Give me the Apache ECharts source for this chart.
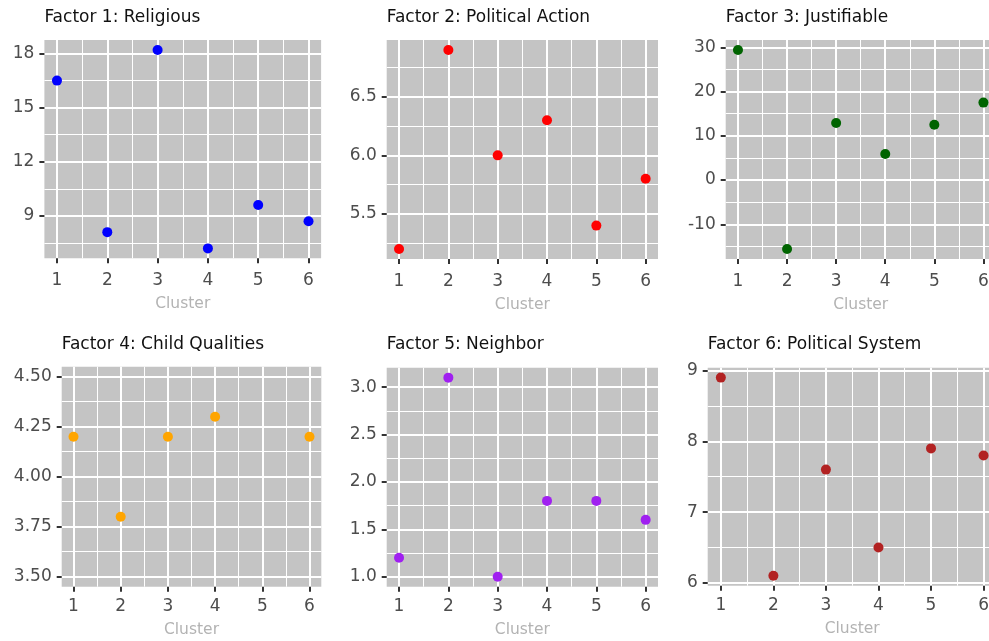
<!DOCTYPE html>
<html>
<head>
<meta charset="utf-8">
<script src="https://cdn.jsdelivr.net/npm/echarts@6/dist/echarts.min.js"></script>
<style>
html,body{margin:0;padding:0;background:#fff;}
#chart{width:989px;height:641px;}
</style>
</head>
<body>
<div id="chart"></div>
<script>
// ---- data ----
const clusters = [1, 2, 3, 4, 5, 6];
const titles = [
  'Factor 1: Religious',
  'Factor 2: Political Action',
  'Factor 3: Justifiable',
  'Factor 4: Child Qualities',
  'Factor 5: Neighbor',
  'Factor 6: Political System'
];
const religious = [16.5, 8.1, 18.2, 7.2, 9.6, 8.7];
const politicalAction = [5.2, 6.9, 6.0, 6.3, 5.4, 5.8];
const justifiable = [29.4, -15.6, 12.9, 5.9, 12.5, 17.5];
const childQualities = [4.2, 3.8, 4.2, 4.3, null, 4.2];
const neighbor = [1.2, 3.1, 1.0, 1.8, 1.8, 1.6];
const politicalSystem = [8.9, 6.1, 7.6, 6.5, 7.9, 7.8];

const xTicks = [1, 2, 3, 4, 5, 6];
const xMinorTicks = [1.5, 2.5, 3.5, 4.5, 5.5];

const yTicks1 = [9, 12, 15, 18];
const yMinor1 = [7.5, 10.5, 13.5, 16.5];
const yTicks2 = [5.5, 6.0, 6.5];
const yMinor2 = [5.25, 5.75, 6.25, 6.75];
const yTicks3 = [-10, 0, 10, 20, 30];
const yMinor3 = [-15, -5, 5, 15, 25];
const yTicks4 = [3.5, 3.75, 4.0, 4.25, 4.5];
const yMinor4 = [3.625, 3.875, 4.125, 4.375];
const yLimits4 = [3.5, 4.5];
const yTicks5 = [1.0, 1.5, 2.0, 2.5, 3.0];
const yMinor5 = [1.25, 1.75, 2.25, 2.75];
const yTicks6 = [6, 7, 8, 9];
const yMinor6 = [6.5, 7.5, 8.5];

// ---- panel setup ----
const FONT = 'DejaVu Sans';
const panels = [
  {vals: religious, yt: yTicks1, ym: yMinor1, dec: 0, color: '#0000ff', lim: null,
   box: {left: 44.4, top: 40, width: 276.7, height: 218.3}},
  {vals: politicalAction, yt: yTicks2, ym: yMinor2, dec: 1, color: '#ff0000', lim: null,
   box: {left: 386.7, top: 40, width: 271.3, height: 219}},
  {vals: justifiable, yt: yTicks3, ym: yMinor3, dec: 0, color: '#006400', lim: null,
   box: {left: 725.7, top: 40, width: 270, height: 219}},
  {vals: childQualities, yt: yTicks4, ym: yMinor4, dec: 2, color: '#ffa500', lim: yLimits4,
   box: {left: 61.7, top: 366.7, width: 259.6, height: 220}},
  {vals: neighbor, yt: yTicks5, ym: yMinor5, dec: 1, color: '#a020f0', lim: null,
   box: {left: 386.7, top: 367.7, width: 271.3, height: 219}},
  {vals: politicalSystem, yt: yTicks6, ym: yMinor6, dec: 0, color: '#b22222', lim: null,
   box: {left: 707.7, top: 367.7, width: 289, height: 218}}
];

const grid = [], xAxis = [], yAxis = [], series = [], title = [];

panels.forEach((p, i) => {
  grid.push(Object.assign({show: true, backgroundColor: '#c4c4c4', borderWidth: 0,
    containLabel: false, outerBoundsMode: 'none'}, p.box));
  const topRow = i < 3;
  title.push({
    text: titles[i], left: p.box.left, top: topRow ? 9 : 336, padding: 0,
    textStyle: {fontFamily: FONT, fontSize: 17, fontWeight: 'normal', color: '#111111'}
  });

  const vals = p.vals.filter(v => v !== null);
  const lo = p.lim ? p.lim[0] : Math.min(...vals);
  const hi = p.lim ? p.lim[1] : Math.max(...vals);
  const pad = (hi - lo) * 0.05;
  const ymin = lo - pad, ymax = hi + pad;

  const xi = xAxis.length, yi = yAxis.length;
  // major x
  xAxis.push({
    type: 'value', gridIndex: i, min: 0.75, max: 6.25, position: 'bottom',
    axisLine: {show: false, onZero: false},
    axisTick: {show: true, length: 5, customValues: xTicks, lineStyle: {color: '#333', width: 2}},
    axisLabel: {show: true, customValues: xTicks, margin: topRow ? 14 : 11,
      fontFamily: FONT, fontSize: 17, color: '#4d4d4d'},
    splitLine: {show: true, lineStyle: {color: '#ffffff', width: 2}},
    name: 'Cluster', nameLocation: 'middle', nameGap: topRow ? 38 : 35,
    nameTextStyle: {fontFamily: FONT, fontSize: 15.5, color: '#b3b3b3'},
    z: 2
  });
  // minor x
  xAxis.push({
    type: 'value', gridIndex: i, min: 0.75, max: 6.25, position: 'top',
    axisLine: {show: false, onZero: false},
    axisTick: {show: false, customValues: xMinorTicks},
    axisLabel: {show: false, customValues: xMinorTicks},
    splitLine: {show: true, lineStyle: {color: '#ffffff', width: 1}},
    z: 1
  });
  // major y
  yAxis.push({
    type: 'value', gridIndex: i, min: ymin, max: ymax, position: 'left',
    axisLine: {show: false, onZero: false},
    axisTick: {show: true, length: 5, customValues: p.yt, lineStyle: {color: '#333', width: 2}},
    axisLabel: {show: true, customValues: p.yt, margin: 10,
      fontFamily: FONT, fontSize: 17, color: '#4d4d4d',
      formatter: v => Number(v).toFixed(p.dec)},
    splitLine: {show: true, lineStyle: {color: '#ffffff', width: 2}},
    z: 2
  });
  // minor y
  yAxis.push({
    type: 'value', gridIndex: i, min: ymin, max: ymax, position: 'right',
    axisLine: {show: false, onZero: false},
    axisTick: {show: false, customValues: p.ym},
    axisLabel: {show: false, customValues: p.ym},
    splitLine: {show: true, lineStyle: {color: '#ffffff', width: 1}},
    z: 1
  });

  series.push({
    type: 'scatter', xAxisIndex: xi, yAxisIndex: yi,
    symbol: 'circle', symbolSize: 10,
    itemStyle: {color: p.color, opacity: 1},
    data: clusters.map((c, k) => [c, p.vals[k]]).filter(d => d[1] !== null),
    z: 5, silent: true
  });
});

const chart = echarts.init(document.getElementById('chart'), null, {renderer: 'canvas'});
chart.setOption({
  animation: false,
  backgroundColor: '#ffffff',
  textStyle: {fontFamily: FONT},
  title, grid, xAxis, yAxis, series
});
</script>
</body>
</html>
